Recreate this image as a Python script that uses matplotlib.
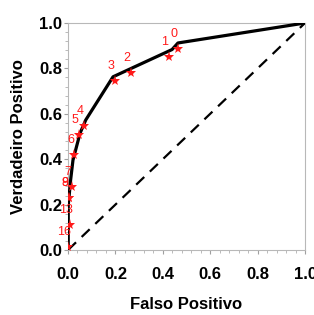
import matplotlib
matplotlib.use("Agg")
import matplotlib.pyplot as plt
import numpy as np

# ROC curve (black line)
curve_fpr = [0.0, 0.001, 0.001, 0.011, 0.021, 0.051, 0.075, 0.190, 0.439, 0.464, 1.0]
curve_tpr = [0.0, 0.007, 0.197, 0.308, 0.396, 0.515, 0.573, 0.763, 0.883, 0.912, 1.0]

# Cut-off points (red stars) and their labels
pt_fpr = [0.464, 0.426, 0.266, 0.198, 0.068, 0.046, 0.027, 0.016, 0.004, 0.004, 0.008, 0.001]
pt_tpr = [0.887, 0.852, 0.781, 0.746, 0.546, 0.507, 0.418, 0.277, 0.228, 0.228, 0.108, 0.015]
pt_labels = ["0", "1", "2", "3", "4", "5", "6", "7", "8", "9", "13", "16"]

x_ticks = [0.0, 0.2, 0.4, 0.6, 0.8, 1.0]
y_ticks = [0.0, 0.2, 0.4, 0.6, 0.8, 1.0]
x_label = "Falso Positivo"
y_label = "Verdadeiro Positivo"

plt.rcParams['font.family'] = ['Liberation Sans', 'DejaVu Sans']

fig = plt.figure(figsize=(3.14, 3.15), dpi=100)
ax = fig.add_axes([68/314, 1-250/315, 237/314, 227/315])

ax.plot([0, 1], [0, 1], color='black', lw=1.6, linestyle=(0, (5, 3.5)), zorder=2)
ax.plot(curve_fpr, curve_tpr, color='black', lw=2.3, solid_joinstyle='round', zorder=3)
ax.plot(pt_fpr, pt_tpr, linestyle='none', marker='*', color='#ff1a1a', markersize=8,
        markeredgewidth=0, zorder=4)
for x, y, s in zip(pt_fpr, pt_tpr, pt_labels):
    ax.annotate(s, (x, y), xytext=(-4, 15), textcoords='offset pixels',
                ha='center', va='center', color='#ff1a1a', fontsize=9, zorder=5,
                annotation_clip=False)

ax.set_xlim(0, 1)
ax.set_ylim(0, 1)
ax.set_xticks(x_ticks)
ax.set_yticks(y_ticks)
ax.set_xticklabels([f"{v:.1f}" for v in x_ticks], fontweight='bold', fontsize=12)
ax.set_yticklabels([f"{v:.1f}" for v in y_ticks], fontweight='bold', fontsize=12)
ax.set_xticks(np.arange(0, 1.0001, 0.04), minor=True)
ax.set_yticks(np.arange(0, 1.0001, 0.04), minor=True)
ax.tick_params(which='major', direction='out', length=3, width=0.8, color='#a0a0a0')
ax.tick_params(which='minor', direction='out', length=2.2, width=0.6, color='#b0b0b0')
ax.tick_params(axis='x', which='major', pad=9)
ax.tick_params(axis='y', which='major', pad=1)
for sp in ax.spines.values():
    sp.set_color('#b8b8b8')
    sp.set_linewidth(0.8)
ax.set_xlabel(x_label, fontweight='bold', fontsize=12, labelpad=11)
ax.set_ylabel(y_label, fontweight='bold', fontsize=12, labelpad=10)

fig.savefig("out.png", dpi=100)
